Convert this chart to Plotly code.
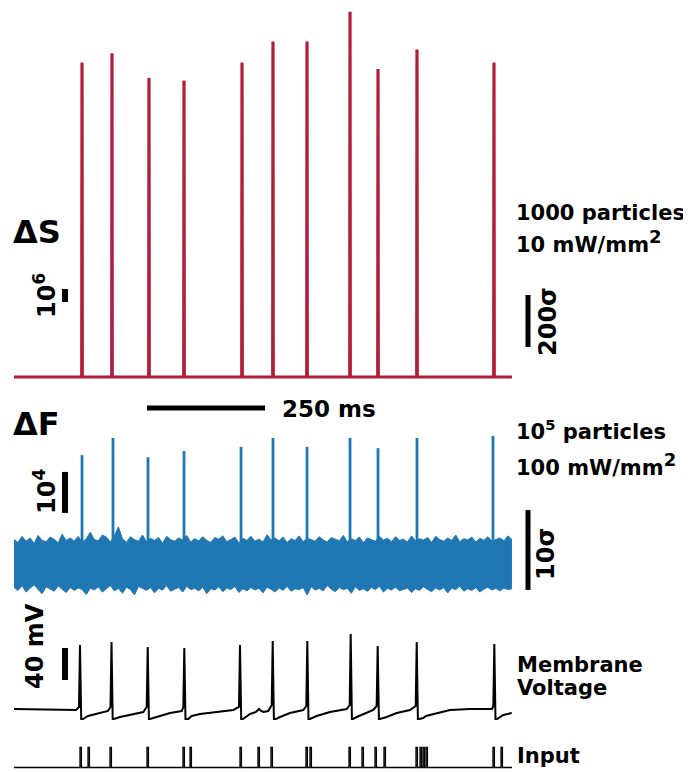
import numpy as np
import plotly.graph_objects as go

W, H = 691, 772

# ---------------- data ----------------
# time in ms
t_end_ms = 1055.0

# ΔS spikes (units of 10^6)
ds_spike_t = [144.1, 207.6, 286.0, 360.2, 483.1, 548.7, 620.8, 711.9, 771.2, 853.8, 1016.9]
ds_spike_h = [24.2, 24.9, 23.0, 22.8, 24.2, 25.8, 25.8, 28.1, 23.7, 25.2, 24.2]

# ΔF spikes (units of 10^4)
df_spike_t = [144.1, 209.7, 283.9, 360.2, 481.0, 548.7, 620.8, 711.9, 771.2, 853.8, 1014.8]
df_spike_h = [2.68, 3.10, 2.63, 2.78, 2.88, 3.10, 2.88, 3.10, 2.85, 3.10, 3.15]

# ΔF noise band envelope (units of 10^4), sampled evenly over the trace
df_upper = [0.62,0.55,0.70,0.58,0.66,0.52,0.72,0.60,0.57,0.68,0.63,0.54,0.75,0.60,0.66,0.58,0.70,0.55,0.64,0.80,
            0.62,0.59,0.73,0.68,0.56,0.71,0.93,0.64,0.55,0.69,0.62,0.58,0.73,0.57,0.65,0.60,0.67,0.53,0.70,0.62,
            0.58,0.66,0.61,0.72,0.56,0.64,0.59,0.69,0.60,0.55,0.67,0.63,0.71,0.57,0.62,0.68,0.54,0.65,0.60,0.70,
            0.58,0.63,0.56,0.74,0.61,0.66,0.59,0.68,0.55,0.64,0.60,0.71,0.57,0.65,0.62,0.58,0.69,0.61,0.56,0.67,
            0.63,0.59,0.72,0.57,0.64,0.60,0.68,0.55,0.66,0.62,0.58,0.70,0.61,0.65,0.57,0.69,0.60,0.63,0.56,0.71,
            0.59,0.64,0.61,0.67,0.55,0.70,0.62,0.58,0.66,0.60,0.73,0.57,0.64,0.61,0.68,0.56,0.65,0.60,0.69,0.58,
            0.63,0.66,0.59,0.71,0.62]
df_lower = [-0.55,-0.62,-0.50,-0.66,-0.57,-0.48,-0.60,-0.70,-0.53,-0.58,-0.64,-0.51,-0.59,-0.67,-0.55,-0.62,-0.56,-0.60,-0.72,-0.56,
            -0.61,-0.53,-0.66,-0.58,-0.50,-0.63,-0.57,-0.69,-0.54,-0.60,-0.73,-0.52,-0.58,-0.62,-0.55,-0.68,-0.57,-0.61,-0.50,-0.64,
            -0.59,-0.55,-0.66,-0.52,-0.60,-0.57,-0.63,-0.54,-0.70,-0.58,-0.61,-0.53,-0.65,-0.56,-0.60,-0.52,-0.67,-0.58,-0.63,-0.55,
            -0.61,-0.57,-0.68,-0.54,-0.59,-0.66,-0.56,-0.62,-0.52,-0.64,-0.58,-0.60,-0.55,-0.73,-0.53,-0.61,-0.57,-0.63,-0.50,-0.59,
            -0.65,-0.55,-0.60,-0.57,-0.69,-0.53,-0.62,-0.58,-0.64,-0.55,-0.60,-0.52,-0.66,-0.57,-0.61,-0.54,-0.63,-0.59,-0.56,-0.67,
            -0.58,-0.62,-0.53,-0.60,-0.65,-0.56,-0.61,-0.55,-0.68,-0.57,-0.60,-0.52,-0.64,-0.58,-0.62,-0.55,-0.66,-0.59,-0.54,-0.61,
            -0.57,-0.63,-0.56,-0.60,-0.58]

# Membrane voltage knots (ms, mV)
vm_t = [0.0, 131.4, 137.7, 139.8, 142.4,
        146.2, 156.8, 182.2, 199.2, 204.4, 206.6, 209.1,
        211.9, 224.6, 252.8, 274.0, 281.1, 283.3, 285.8,
        288.1, 302.3, 330.5, 355.3, 358.7, 360.8, 363.3,
        369.3, 376.5, 394.1, 429.4, 464.6, 476.7, 478.8, 481.4,
        485.2, 500.0, 512.7, 519.1, 523.3, 528.2, 538.8, 546.0, 548.1, 550.6,
        555.1, 563.6, 584.7, 612.9, 619.3, 621.4, 623.9,
        627.1, 641.3, 669.5, 704.9, 711.2, 713.3, 715.9,
        718.2, 726.1, 736.7, 747.3, 761.1, 768.3, 770.5, 773.1,
        775.4, 789.6, 810.8, 839.0, 851.1, 853.2, 855.7,
        858.1, 867.2, 872.9, 895.5, 923.7, 966.1, 1012.7, 1015.5, 1017.6, 1020.1,
        1023.3, 1036.7, 1054.5]
vm_v = [-63.75, -65.0, -61.25, 16.25, -76.25,
        -76.25, -72.5, -68.75, -66.25, -61.25, 20.0, -76.25,
        -76.25, -73.75, -70.0, -67.5, -61.25, 13.75, -76.25,
        -76.25, -73.75, -68.75, -66.25, -61.25, 12.5, -76.25,
        -76.25, -72.5, -70.0, -67.5, -65.0, -61.25, 16.25, -76.25,
        -76.25, -70.0, -67.5, -63.75, -66.25, -67.5, -66.25, -58.75, 21.25, -76.25,
        -76.25, -73.75, -68.75, -65.0, -60.0, 21.25, -76.25,
        -76.25, -72.5, -67.5, -63.75, -58.75, 30.0, -76.25,
        -76.25, -73.75, -71.25, -68.75, -65.0, -60.0, 15.0, -76.25,
        -76.25, -73.75, -68.75, -65.0, -60.0, 20.0, -76.25,
        -76.25, -75.0, -72.5, -68.75, -65.0, -63.75, -63.75, -60.0, 17.5, -76.25,
        -76.25, -71.25, -68.75]

# Input pulse onsets (ms)
input_t = [139.8, 156.8, 203.4, 281.8, 358.0, 372.9, 478.8, 516.9, 544.5, 618.6, 627.1,
           709.7, 737.3, 764.8, 783.9, 851.7, 860.2, 866.5, 872.9, 1014.8, 1031.8]
pulse_width_ms = 3.0

# scale-bar sizes
sigma_S = 0.02    # in 10^6 units
sigma_F = 0.195   # in 10^4 units

# ---------------- geometry helpers ----------------
OFF = 8                      # page margin around the plot div
FW, FH = W - OFF, H - OFF
px_per_ms = 118.0 / 250.0
x0_px = 14.0

def pfy(py):
    return 1 - (py - OFF) / FH

def pfx(px):
    return (px - OFF) / FW

def yrange(dom_top, dom_bot, zero_px, zero_val, px_per_unit):
    return [zero_val - (dom_bot - zero_px) / px_per_unit,
            zero_val + (zero_px - dom_top) / px_per_unit]

xr = [-(x0_px - OFF) / px_per_ms, (W - x0_px) / px_per_ms]

RED = "#B21E3A"
BLUE = "#1F77B4"
FONT = "DejaVu Sans"

fig = go.Figure()

# ΔS trace
xs, ys = [0.0], [0.0]
for t, h in zip(ds_spike_t, ds_spike_h):
    xs += [t - 0.6, t, t + 0.6]
    ys += [0.0, h, 0.0]
xs.append(t_end_ms); ys.append(0.0)
fig.add_trace(go.Scatter(x=xs, y=ys, mode="lines", line=dict(color=RED, width=3.2),
                         yaxis="y", hoverinfo="skip"))

# ΔF noise band
env_t = list(np.linspace(0, t_end_ms, len(df_upper)))
fig.add_trace(go.Scatter(x=env_t, y=df_upper, mode="lines", line=dict(color=BLUE, width=1),
                         yaxis="y2", hoverinfo="skip"))
fig.add_trace(go.Scatter(x=env_t, y=df_lower, mode="lines", line=dict(color=BLUE, width=1),
                         fill="tonexty", fillcolor=BLUE, yaxis="y2", hoverinfo="skip"))
# ΔF spikes
sx, sy = [], []
for t, h in zip(df_spike_t, df_spike_h):
    sx += [t, t, None]
    sy += [0.0, h, None]
fig.add_trace(go.Scatter(x=sx, y=sy, mode="lines", line=dict(color=BLUE, width=2.8),
                         yaxis="y2", hoverinfo="skip"))

# Membrane voltage
fig.add_trace(go.Scatter(x=vm_t, y=vm_v, mode="lines", line=dict(color="black", width=2),
                         yaxis="y3", hoverinfo="skip"))

# Input pulses
ix, iy = [0.0], [0.0]
for t in input_t:
    ix += [t, t, t + pulse_width_ms, t + pulse_width_ms]
    iy += [0.0, 1.0, 1.0, 0.0]
ix.append(t_end_ms); iy.append(0.0)
fig.add_trace(go.Scatter(x=ix, y=iy, mode="lines", line=dict(color="black", width=1.3),
                         yaxis="y4", hoverinfo="skip"))

# ---------------- axes ----------------
ax_hidden = dict(visible=False, showgrid=False, zeroline=False, fixedrange=True)
d1 = (8, 390); d2 = (395, 605); d3 = (605, 728); d4 = (730, 772)
fig.update_layout(
    width=FW, height=FH, margin=dict(l=0, r=0, t=0, b=0),
    font=dict(family=FONT, size=21, color="black"),
    paper_bgcolor="white", plot_bgcolor="rgba(0,0,0,0)", showlegend=False,
    xaxis=dict(domain=[0, 1], range=xr, **ax_hidden),
    yaxis=dict(domain=[pfy(d1[1]), pfy(d1[0])], range=yrange(*d1, 377, 0, 13.0), anchor="x", **ax_hidden),
    yaxis2=dict(domain=[pfy(d2[1]), pfy(d2[0])], range=yrange(*d2, 565, 0, 41.0), anchor="x", **ax_hidden),
    yaxis3=dict(domain=[pfy(d3[1]), pfy(d3[0])], range=yrange(*d3, 710, -65, 0.8), anchor="x", **ax_hidden),
    yaxis4=dict(domain=[pfy(d4[1]), pfy(d4[0])], range=yrange(*d4, 767.5, 0, 20.0), anchor="x", **ax_hidden),
)

# ---------------- scale bars ----------------
left_bar_t = (65 - x0_px) / px_per_ms
right_bar_t = (528 - x0_px) / px_per_ms
bars = [
    dict(x0=left_bar_t, x1=left_bar_t, y0=5.77, y1=5.77 + 1.0, yref="y", w=6),
    dict(x0=right_bar_t, x1=right_bar_t, y0=2.31, y1=2.31 + 200 * sigma_S, yref="y", w=5),
    dict(x0=left_bar_t, x1=left_bar_t, y0=1.27, y1=1.27 + 1.0, yref="y2", w=6),
    dict(x0=right_bar_t, x1=right_bar_t, y0=-0.61, y1=-0.61 + 10 * sigma_F, yref="y2", w=5),
    dict(x0=left_bar_t, x1=left_bar_t, y0=-27.5, y1=-27.5 + 40, yref="y3", w=6),
    dict(x0=281.8, x1=281.8 + 250, y0=3.83, y1=3.83, yref="y2", w=5),
]
for b in bars:
    fig.add_shape(type="line", xref="x", yref=b["yref"], x0=b["x0"], x1=b["x1"],
                  y0=b["y0"], y1=b["y1"], line=dict(color="black", width=b["w"]))

# ---------------- text ----------------
def txt(s, x, y, size, xanchor="left", angle=0):
    fig.add_annotation(text=s, x=pfx(x), y=pfy(y), xref="paper", yref="paper",
                       xanchor=xanchor, yanchor="middle", showarrow=False, textangle=angle,
                       font=dict(family=FONT, size=size, color="black", weight="bold"))

SQ = "<sup><span style='font-size:18px'>2</span></sup>"
txt("ΔS", 11, 232, 32)
txt("10<sup>6</sup>", 45, 296, 24, xanchor="center", angle=-90)
txt("1000 particles", 514, 213, 21)
txt("10 mW/mm" + SQ, 514, 241, 21)
txt("200σ", 548, 322, 24, xanchor="center", angle=-90)
txt("250 ms", 280, 409, 23)
txt("ΔF", 11, 424, 32)
txt("10<sup>4</sup>", 45, 492, 24, xanchor="center", angle=-90)
txt("10<sup>5</sup> particles", 514, 430, 21)
txt("100 mW/mm" + SQ, 514, 464, 21)
txt("10σ", 546, 554, 24, xanchor="center", angle=-90)
txt("40 mV", 35, 646, 24, xanchor="center", angle=-90)
txt("Membrane", 515, 665, 21)
txt("Voltage", 515, 688, 21)
txt("Input", 515, 756, 21)

fig.write_html("out.html")
